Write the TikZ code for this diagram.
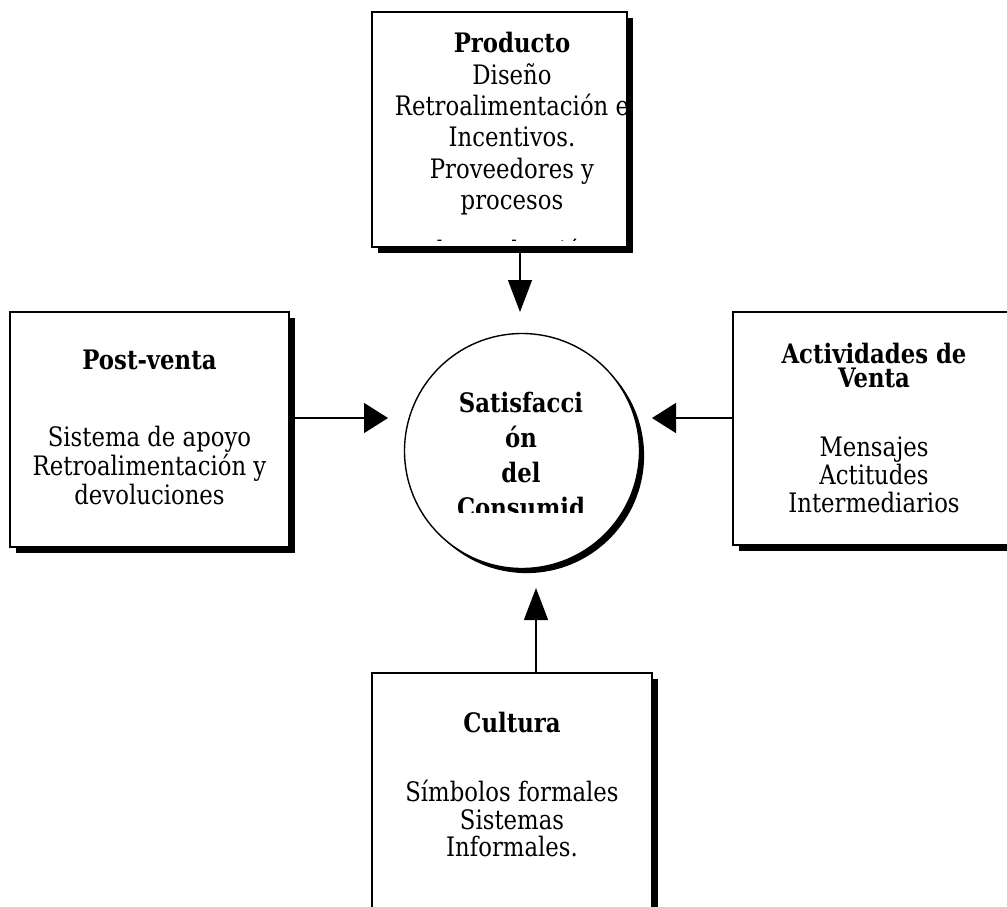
\documentclass[tikz,border=0pt]{standalone}
\usepackage{fontspec}
\setmainfont{DejaVu Serif}[FakeStretch=0.85]
\usetikzlibrary{arrows.meta, shadows}

\begin{document}
\begin{tikzpicture}[x=0.5pt, y=-0.5pt,
                    box/.style={draw, line width=0.8pt, fill=white,
                        drop shadow={shadow xshift=3pt, shadow yshift=-3pt, fill=black, opacity=1}},
                    core/.style={draw, circle, line width=0.7pt, fill=white,
                        drop shadow={shadow xshift=2.3pt, shadow yshift=-2.3pt, fill=black, opacity=1}},
                    txt/.style={anchor=north, inner sep=0pt, align=center,
                        font=\fontsize{13.4}{14.5}\selectfont},
                    arrv/.style={line width=0.7pt, -{Triangle[length=16pt, width=12pt]}},
                    arrh/.style={line width=0.7pt, -{Triangle[length=12pt, width=15pt]}}]

        \path[use as bounding box, fill=white] (0,0) rectangle (1007,906);

        % Boxes round the centre
        \node[box, minimum width=127.5pt, minimum height=117.5pt] (prod) at (499.5,129.5) {};
        \node[box, minimum width=139.5pt, minimum height=117.5pt] (postv) at (149.5,429.5) {};
        \node[box, minimum width=141pt, minimum height=116.5pt] (activ) at (874,428.5) {};
        \node[box, minimum width=140pt, minimum height=143.5pt] (cult) at (512,816.5) {};

        % Centre circle
        \node[core, minimum size=117.5pt] (circ) at (522,451) {};

        % Texts
        \begin{scope}
            \clip (372,14) rectangle (640,240);
            \node[txt, font=\fontsize{13.4}{15.7}\selectfont] (prodtxt) at (512,32)
                {\textbf{Producto}\\ Diseño\\ Retroalimentación e\\ Incentivos.\\
                 Proveedores y\\ procesos\\[9.5pt] de producción};
        \end{scope}
        \begin{scope}
            \clip (400,330) rectangle (645,512);
            \node[txt, font=\bfseries\fontsize{13.4}{17.5}\selectfont] (circtxt) at (521,392)
                {Satisfacci\\ ón\\ del\\ Consumid};
        \end{scope}
        \node[txt] (postvtxt) at (149.5,350)
            {\textbf{Post-venta}\\[24pt] Sistema de apoyo\\ Retroalimentación y\\ devoluciones};
        \node[txt, font=\fontsize{13.4}{14}\selectfont] (activtxt) at (874,343)
            {\textbf{Actividades de}\\[-2pt] \textbf{Venta}\\[20.5pt] Mensajes\\ Actitudes\\ Intermediarios};
        \node[txt, font=\fontsize{13.4}{13.75}\selectfont] (culttxt) at (512,712)
            {\textbf{Cultura}\\[20.75pt] Símbolos formales\\ Sistemas\\ Informales.};

        % Arrow tips
        \coordinate (tipT) at (520,312);
        \coordinate (tipL) at (388,418);
        \coordinate (tipR) at (652,418);
        \coordinate (tipB) at (536,588);

        % Arrows into the circle
        \draw[arrv] (prod.south -| tipT) -- (tipT);
        \draw[arrh] (postv.east |- tipL) -- (tipL);
        \draw[arrh] (activ.west |- tipR) -- (tipR);
        \draw[arrv] (cult.north -| tipB) -- (tipB);

    \end{tikzpicture}
\end{document}
